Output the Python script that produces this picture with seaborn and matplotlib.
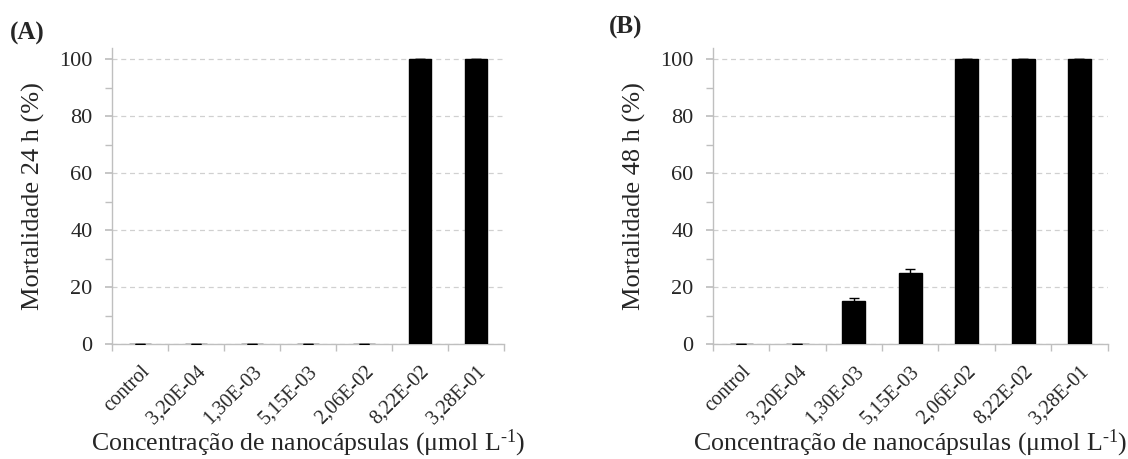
import matplotlib
matplotlib.use("Agg")
import matplotlib.pyplot as plt
import matplotlib.transforms as mtransforms
import seaborn as sns
import numpy as np
import pandas as pd

categories = ["control", "3,20E-04", "1,30E-03", "5,15E-03", "2,06E-02", "8,22E-02", "3,28E-01"]
mort_24h = [0, 0, 0, 0, 0, 100, 100]
err_24h = [0, 0, 0, 0, 0, 0, 0]
mort_48h = [0, 0, 15, 25, 100, 100, 100]
err_48h = [0, 0, 1.2, 1.5, 0, 0, 0]
ylabels = ["Mortalidade 24 h (%)", "Mortalidade 48 h (%)"]
panel_labels = ["(A)", "(B)"]
xlabel = "Concentração de nanocápsulas (μmol L$^{\\text{-1}}$)"

sns.set_theme(style="white")
plt.rcParams["font.family"] = ["Liberation Serif", "DejaVu Serif"]
plt.rcParams["mathtext.fontset"] = "custom"
plt.rcParams["mathtext.rm"] = "Liberation Serif"
plt.rcParams["mathtext.it"] = "Liberation Serif:italic"
plt.rcParams["mathtext.default"] = "regular"

fig = plt.figure(figsize=(11.28, 4.59), dpi=100)
axA = fig.add_axes([0.0993, 0.2505, 0.3475, 0.645])
axB = fig.add_axes([0.632, 0.2505, 0.350, 0.645])

spine_col = "#bfbfbf"
for ax, vals, errs, yl in [(axA, mort_24h, err_24h, ylabels[0]), (axB, mort_48h, err_48h, ylabels[1])]:
    df = pd.DataFrame({"cat": categories, "val": vals})
    sns.barplot(data=df, x="cat", y="val", color="black", width=0.41, ax=ax,
                saturation=1, edgecolor="black", zorder=3)
    ax.errorbar(np.arange(len(categories)), vals, yerr=errs, fmt="none",
                ecolor="black", elinewidth=1.0, capsize=3.3, capthick=1.0, zorder=4)
    ax.set_xlim(-0.5, len(categories) - 0.5)
    ax.set_ylim(0, 104)
    ax.set_yticks(np.arange(0, 101, 20))
    ax.set_yticks(np.arange(0, 101, 10), minor=True)
    ax.yaxis.grid(True, which="major", linestyle=(0, (4, 3)), color="#d0d0d0", linewidth=0.9, zorder=0)
    ax.set_xticks(np.arange(-0.5, len(categories), 1.0), minor=True)
    ax.set_xticks(np.arange(len(categories)))
    ax.set_xticklabels(categories, rotation=45, ha="right", rotation_mode="anchor", fontsize=14.5)
    offset = mtransforms.ScaledTranslation(4 / 100, 0, fig.dpi_scale_trans)
    for lab in ax.get_xticklabels():
        lab.set_transform(lab.get_transform() + offset)
    ax.tick_params(axis="x", which="major", length=0, pad=13)
    ax.tick_params(axis="x", which="minor", length=5, color=spine_col, direction="out", bottom=True)
    ax.tick_params(axis="y", which="both", length=5, color=spine_col, direction="out", left=True,
                   labelsize=16, pad=9)
    for s in ["top", "right"]:
        ax.spines[s].set_visible(False)
    for s in ["left", "bottom"]:
        ax.spines[s].set_color(spine_col)
        ax.spines[s].set_linewidth(1.0)
    ax.set_ylabel(yl, fontsize=19, labelpad=10)
    ax.set_xlabel(xlabel, fontsize=18.6, labelpad=0)

fig.text(0.009, 0.928, panel_labels[0], fontsize=18, fontweight="bold", ha="left", va="center")
fig.text(0.540, 0.941, panel_labels[1], fontsize=18, fontweight="bold", ha="left", va="center")

fig.savefig("out.png", dpi=100)
